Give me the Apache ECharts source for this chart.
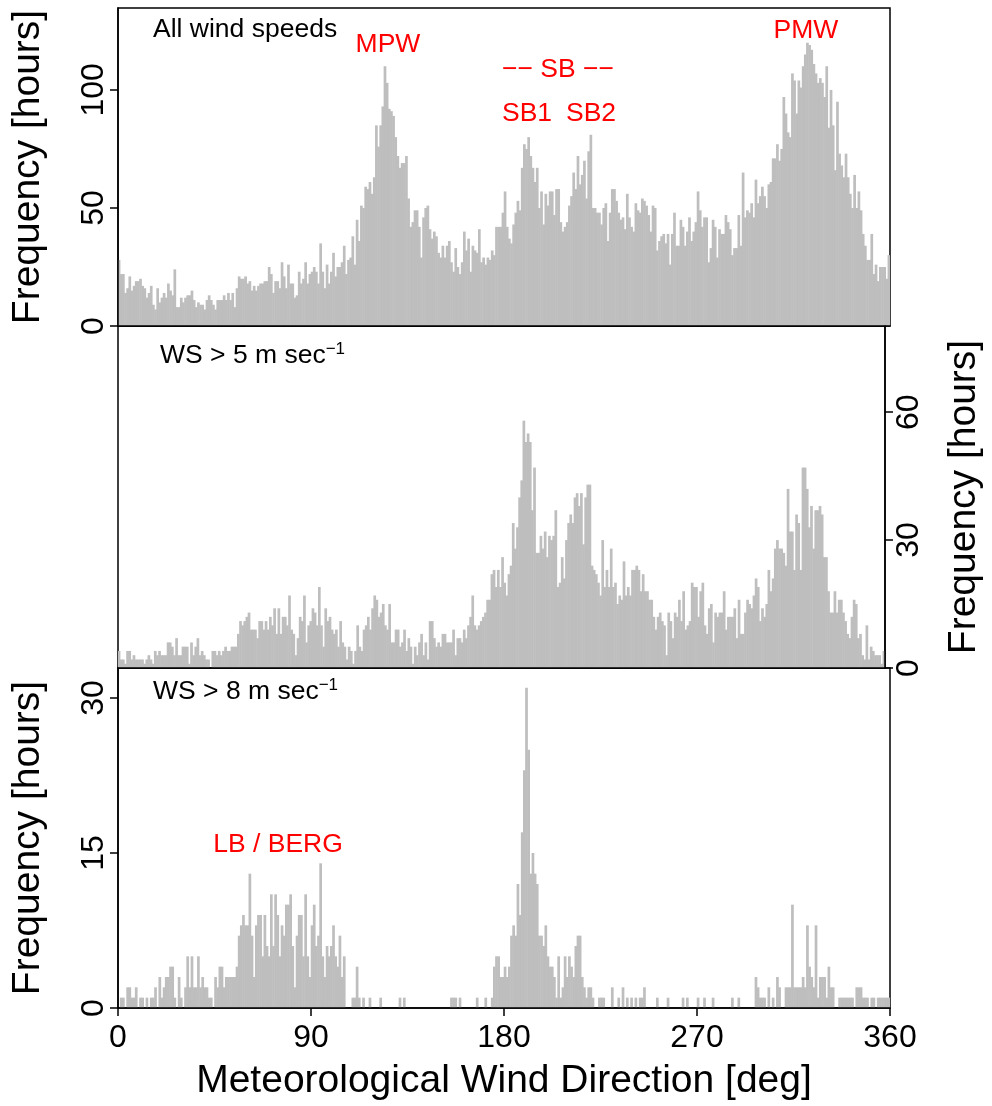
<!DOCTYPE html>
<html>
<head>
<meta charset="utf-8">
<script src="https://cdn.jsdelivr.net/npm/echarts@6/dist/echarts.min.js"></script>
<style>
  html, body { margin: 0; padding: 0; background: #fff; }
  #chart { width: 992px; height: 1106px; }
</style>
</head>
<body>
<div id="chart"></div>
<script>
// hourly wind direction counts, 1 degree bins (0..359)
const allSpeeds = [
  28,22,22,14,16,21,15,17,19,19, 20,17,16,12,14,17,9,7,16,10,
  12,14,12,18,15,13,24,8,8,12, 10,12,13,13,15,11,8,10,9,9,
  7,11,13,11,9,7,11,11,11,13, 11,14,11,14,8,16,21,20,20,21,
  18,19,15,17,15,17,18,18,19,19, 25,22,14,19,19,16,27,21,16,26,
  18,18,12,13,23,18,20,27,18,22, 23,25,23,18,35,23,16,26,18,23,
  31,21,25,25,27,34,22,28,29,38, 26,45,36,51,50,59,58,61,56,63,
  85,76,85,93,110,103,92,91,89,80, 72,67,69,69,72,54,42,44,49,49,
  42,29,46,50,51,41,37,40,38,31, 29,34,29,34,36,27,23,33,25,22,
  27,40,32,37,23,34,32,31,41,27, 29,26,29,28,32,30,42,42,42,48,
  57,42,37,35,43,48,53,49,67,77, 75,80,72,67,61,67,50,57,43,56,
  51,57,57,47,58,58,44,40,42,44, 51,55,65,58,72,60,64,70,54,74,
  81,50,50,48,48,43,50,52,36,48, 58,58,53,48,45,46,41,56,46,42,
  40,52,49,48,54,53,51,47,40,51, 50,32,36,38,39,35,39,26,39,48,
  34,34,45,42,34,40,46,36,40,44, 57,49,42,46,46,27,33,45,42,29,
  41,39,39,47,44,41,30,33,33,47, 34,65,46,49,48,52,46,62,52,55,
  59,55,50,60,61,71,71,77,70,75, 97,90,82,80,107,104,90,104,101,110,
  115,120,119,117,111,107,103,105,103,97, 110,84,100,85,66,95,73,68,63,73,
  63,56,50,64,50,57,49,39,34,28, 28,39,22,26,19,25,25,25,20,30
];
const over5 = [
  4,2,2,1,4,4,2,3,2,2, 2,2,1,2,3,2,1,4,3,4,
  3,3,3,6,6,5,3,7,3,3, 5,5,5,1,6,3,5,7,3,4,
  3,2,2,0,4,4,3,4,3,4, 5,4,4,5,5,5,8,11,10,11,
  12,13,9,9,9,7,11,11,9,11, 9,12,10,14,8,14,8,12,12,10,
  17,9,8,3,7,12,11,17,6,10, 11,14,13,10,19,10,5,14,11,12,
  9,8,9,5,11,6,5,2,5,4, 1,4,10,5,4,9,10,12,9,14,
  17,16,12,13,15,10,9,15,6,6, 9,9,5,6,9,4,7,5,1,5,
  3,6,8,3,6,2,11,11,7,5, 6,5,8,8,6,6,6,9,3,7,
  7,6,9,7,10,12,17,10,9,10, 11,12,13,16,16,22,23,19,23,19,
  26,20,17,22,24,34,28,33,40,44, 58,53,55,53,37,47,27,27,31,28,
  32,26,31,30,31,37,19,20,26,21, 30,34,36,34,40,41,38,41,29,40,
  43,43,24,23,22,20,17,30,19,23, 19,28,19,20,15,17,16,25,17,19,
  17,23,23,24,23,18,22,18,18,16, 16,12,9,12,13,11,10,3,13,11,
  7,13,12,16,11,18,9,10,11,20, 19,19,12,18,20,10,8,14,15,6,
  13,12,13,13,18,9,12,12,12,14, 7,16,8,8,13,16,15,14,17,21,
  19,11,14,12,15,23,18,21,28,30, 28,28,27,24,42,32,32,23,36,34,
  23,47,47,42,33,38,28,37,37,38, 36,26,26,18,13,13,18,13,16,16,
  13,11,8,7,12,16,15,7,8,3, 2,10,2,5,4,3,3,3,1,4
];
const over8 = [
  0,1,1,0,2,2,1,1,2,0, 1,1,0,1,0,1,1,2,0,3,
  1,2,3,3,4,4,1,0,3,1, 0,2,5,2,5,2,2,5,2,3,
  2,2,1,1,0,3,2,4,4,2, 3,3,3,3,3,4,7,8,9,8,
  8,13,7,3,8,9,9,5,9,6, 5,11,6,11,9,5,8,7,10,10,
  11,6,2,7,9,9,5,11,5,3, 8,10,6,7,14,5,3,6,5,6,
  8,5,4,7,3,5,0,0,0,1, 1,4,1,0,1,0,0,1,0,0,
  0,0,1,0,0,0,0,0,0,0, 0,1,0,1,0,0,0,0,0,0,
  0,0,0,0,0,0,0,0,0,0, 0,0,0,0,0,1,1,1,0,1,
  0,0,0,0,0,0,0,1,0,0, 0,1,0,0,1,4,5,5,3,3,
  4,3,4,7,8,7,12,9,17,23, 31,25,13,15,13,12,7,7,6,8,
  5,4,4,3,1,5,1,2,5,3, 5,4,3,6,7,7,3,2,1,2,
  2,1,0,0,1,1,1,0,0,0, 2,0,0,1,0,2,0,1,0,1,
  0,1,0,1,1,2,0,0,0,0, 0,1,0,0,0,0,1,0,0,0,
  0,0,0,1,0,1,0,0,0,0, 1,0,0,1,0,0,0,1,0,0,
  0,0,0,0,0,0,1,0,0,1, 0,0,0,0,0,0,0,3,2,1,
  1,1,0,2,0,1,0,3,2,0, 0,2,2,2,10,2,2,2,2,3,
  2,8,4,3,2,8,1,3,3,3, 1,4,2,2,0,0,1,1,1,1,
  1,1,1,0,2,2,2,1,1,1, 0,1,1,0,1,1,1,1,1,1
];
const directions = allSpeeds.map((_, i) => i);
const xTicks = [0, 90, 180, 270, 360];
const ticks1 = [0, 50, 100];
const ticks2 = [0, 30, 60];
const ticks3 = [0, 15, 30];

const FONT = '"Liberation Sans", Arial, Helvetica, sans-serif';
const GREY = '#bebebe';

const chart = echarts.init(document.getElementById('chart'), null, { renderer: 'canvas' });

function catAxis(g) {
  return {
    type: 'category', gridIndex: g, data: directions, boundaryGap: true,
    axisLine: { show: true, lineStyle: { color: '#000', width: 1.5 } },
    axisTick: { show: false }, axisLabel: { show: false }, splitLine: { show: false },
    z: 10
  };
}

function freqAxis(g, pos, max, ticks, gap) {
  return {
    type: 'value', gridIndex: g, position: pos, min: 0, max: max,
    axisLine: { show: true, lineStyle: { color: '#000', width: 1.5 } },
    axisTick: { show: true, length: 8, customValues: ticks, lineStyle: { color: '#000', width: 1.5 } },
    axisLabel: { rotate: 90, fontSize: 32, color: '#000', fontFamily: FONT, margin: 8, customValues: ticks },
    splitLine: { show: false },
    name: 'Frequency [hours]', nameLocation: 'middle', nameRotate: 90, nameGap: gap,
    nameTextStyle: { fontSize: 39, color: '#000', fontFamily: FONT },
    z: 10
  };
}

function bars(idx, values) {
  return {
    type: 'bar', xAxisIndex: idx, yAxisIndex: idx, data: values,
    // bins are ~2.14px wide; a little overlap keeps the histogram solid
    barWidth: 2.7, barGap: '-100%',
    itemStyle: { color: GREY },
    silent: true, z: 2
  };
}

function label(txt, x, y, color, align) {
  return {
    type: 'text', x: x, y: y, z: 20,
    style: { text: txt, fill: color, font: '26.5px ' + FONT, textAlign: align || 'center', textVerticalAlign: 'middle' }
  };
}

function wsLabel(speed, x, y) {
  return {
    type: 'text', x: x, y: y, z: 20,
    style: {
      text: '{a|WS > ' + speed + ' m sec}{b|\u22121}',
      textAlign: 'left', textVerticalAlign: 'middle',
      rich: {
        a: { fontSize: 26.5, fontFamily: FONT, fill: '#000', color: '#000', lineHeight: 30 },
        b: { fontSize: 17, fontFamily: FONT, fill: '#000', color: '#000', verticalAlign: 'top', lineHeight: 18 }
      }
    }
  };
}

chart.setOption({
  animation: false,
  backgroundColor: '#fff',
  grid: [
    { left: 118, top: 8, width: 772, height: 318, show: true, borderColor: '#000', borderWidth: 1.5, containLabel: false },
    { left: 118, top: 326, width: 772, height: 342, show: true, borderColor: '#000', borderWidth: 1.5, containLabel: false },
    { left: 118, top: 668, width: 772, height: 340, show: true, borderColor: '#000', borderWidth: 1.5, containLabel: false }
  ],
  xAxis: [
    catAxis(0), catAxis(1), catAxis(2),
    {
      type: 'value', gridIndex: 2, position: 'bottom', min: 0, max: 360, interval: 90,
      axisLine: { show: false },
      axisTick: { show: true, length: 8, customValues: xTicks, lineStyle: { color: '#000', width: 1.5 } },
      axisLabel: { fontSize: 32, color: '#000', fontFamily: FONT, margin: 14, customValues: xTicks },
      splitLine: { show: false },
      name: 'Meteorological Wind Direction [deg]', nameLocation: 'middle', nameGap: 54,
      nameTextStyle: { fontSize: 39, color: '#000', fontFamily: FONT },
      z: 10
    }
  ],
  yAxis: [
    freqAxis(0, 'left', 134.7, ticks1, 70),
    freqAxis(1, 'right', 80.2, ticks2, 60),
    freqAxis(2, 'left', 32.9, ticks3, 70)
  ],
  series: [bars(0, allSpeeds), bars(1, over5), bars(2, over8)],
  graphic: [
    label('All wind speeds', 153, 30, '#000', 'left'),
    wsLabel(5, 160, 356),
    wsLabel(8, 153, 692),
    label('MPW', 388, 45, '#ff0000'),
    label('\u2212\u2212 SB \u2212\u2212', 558, 70, '#ff0000'),
    label('SB1', 527, 114, '#ff0000'),
    label('SB2', 591, 114, '#ff0000'),
    label('PMW', 806, 31, '#ff0000'),
    label('LB / BERG', 278, 845, '#ff0000')
  ]
});
</script>
</body>
</html>
